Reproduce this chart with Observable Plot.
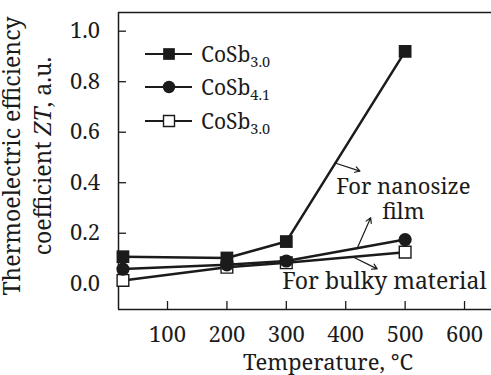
<!DOCTYPE html>
<html>
<head>
<meta charset="utf-8">
<script src="https://cdn.jsdelivr.net/npm/d3@7"></script>
<script src="https://cdn.jsdelivr.net/npm/@observablehq/plot@0.6"></script>
<style>
  html, body { margin: 0; padding: 0; background: #fff; overflow: hidden; }
</style>
</head>
<body>
<div id="chart"></div>
<script>
// Temperatures (°C) at which ZT was measured
const temps = [25, 200, 300, 500];
// ZT values for each sample
const ztFilm30 = [0.107, 0.102, 0.167, 0.92];   // CoSb3.0 nanosize film (filled squares)
const ztFilm41 = [0.058, 0.075, 0.09, 0.175];   // CoSb4.1 nanosize film (filled circles)
const ztBulk30 = [0.013, 0.065, 0.083, 0.125];  // CoSb3.0 bulk material (open squares)

const seriesBase = ["CoSb", "CoSb", "CoSb"];
const seriesSub = ["3.0", "4.1", "3.0"];

const xTicks = [100, 200, 300, 400, 500, 600];
const yTicks = [0, 0.2, 0.4, 0.6, 0.8, 1.0];
const xDomain = [17.5, 645.4];
const yDomain = [-0.102, 1.074];

// Annotation arrows (data units) and labels
const arrows = [
  {x1: 382, y1: 0.478, x2: 424, y2: 0.446},
  {x1: 419, y1: 0.139, x2: 442, y2: 0.261},
  {x1: 414, y1: 0.104, x2: 453, y2: 0.059}
];
const notesFilm = [
  {x: 497, y: 0.357, text: "For nanosize"},
  {x: 497, y: 0.258, text: "film"}
];
const notesBulk = [
  {x: 293, y: -0.019, text: "For bulky material"}
];

const rows = (ys) => temps.map((t, i) => ({t, zt: ys[i]}));
const film30 = rows(ztFilm30), film41 = rows(ztFilm41), bulk30 = rows(ztBulk30);

const ink = "#1b1b1b";
const face = '"Noto Serif", "DejaVu Serif", serif';
const plot = Plot.plot({
  width: 491,
  height: 375,
  marginLeft: 118,
  marginTop: 12,
  marginBottom: 66,
  marginRight: 0,
  style: {fontSize: "22px", color: ink, background: "#fff"},
  x: {domain: xDomain},
  y: {domain: yDomain},
  marks: [
    Plot.ruleX([xDomain[0]], {stroke: ink, strokeWidth: 1.5}),
    Plot.ruleY([yDomain[0], yDomain[1]], {stroke: ink, strokeWidth: 1.5}),
    Plot.axisX(xTicks, {tickSize: -8, tickPadding: 25, label: null, stroke: ink, strokeWidth: 1.3, fontSize: 22}),
    Plot.axisY(yTicks, {tickSize: -8, tickPadding: 26.5, tickFormat: d3.format(".1f"), label: null, stroke: ink, strokeWidth: 1.3, fontSize: 22}),
    Plot.line(bulk30, {x: "t", y: "zt", stroke: ink, strokeWidth: 2.5}),
    Plot.line(film41, {x: "t", y: "zt", stroke: ink, strokeWidth: 2.5}),
    Plot.line(film30, {x: "t", y: "zt", stroke: ink, strokeWidth: 2.5}),
    Plot.dot(bulk30, {x: "t", y: "zt", symbol: "square", r: 6.6, fill: "#fff", stroke: ink, strokeWidth: 1.4}),
    Plot.dot(film41, {x: "t", y: "zt", symbol: "circle", r: 6.6, fill: ink}),
    Plot.dot(film30, {x: "t", y: "zt", symbol: "square", r: 7.2, fill: ink}),
    Plot.arrow(arrows, {x1: "x1", y1: "y1", x2: "x2", y2: "y2", stroke: ink, strokeWidth: 1.2, headLength: 7}),
    Plot.text(notesFilm, {x: "x", y: "y", text: "text", textAnchor: "middle", lineAnchor: "bottom", fill: ink, fontSize: 22}),
    Plot.text(notesBulk, {x: "x", y: "y", text: "text", textAnchor: "start", lineAnchor: "bottom", fill: ink, fontSize: 23})
  ]
});

const svg = d3.select(plot);

// Two-line vertical axis title
const yTitle = svg.append("text")
  .attr("transform", "translate(20,156) rotate(-90)")
  .attr("text-anchor", "middle")
  .attr("fill", ink)
  .style("font-size", "23px");
yTitle.append("tspan").attr("x", 0).attr("dy", 0).text("Thermoelectric efficiency");
const l2 = yTitle.append("tspan").attr("x", 0).attr("dy", 31);
l2.append("tspan").text("coefficient ");
l2.append("tspan").style("font-style", "italic").text("ZT");
l2.append("tspan").text(", a.u.");

// X axis title
svg.append("text")
  .attr("x", 328).attr("y", 370)
  .attr("text-anchor", "middle")
  .attr("fill", ink)
  .style("font-size", "22px")
  .text("Temperature, °C");

// Legend
const legendY = [54, 87, 121];
const legendSymbols = [
  {type: d3.symbolSquare, r: 6.6, fill: ink, stroke: "none"},
  {type: d3.symbolCircle, r: 6.2, fill: ink, stroke: "none"},
  {type: d3.symbolSquare, r: 6.2, fill: "#fff", stroke: ink}
];
const legend = svg.append("g").attr("text-anchor", "start");
legendSymbols.forEach((s, i) => {
  const y = legendY[i];
  legend.append("line").attr("x1", 145).attr("x2", 192).attr("y1", y).attr("y2", y)
    .attr("stroke", ink).attr("stroke-width", 2.2);
  legend.append("path")
    .attr("transform", `translate(169,${y})`)
    .attr("d", d3.symbol(s.type, Math.PI * s.r * s.r)())
    .attr("fill", s.fill).attr("stroke", s.stroke).attr("stroke-width", 1.4);
  const t = legend.append("text").attr("x", 201).attr("y", y + 8)
    .attr("text-anchor", "start").attr("fill", ink).style("font-size", "21px");
  t.append("tspan").text(seriesBase[i]);
  t.append("tspan").attr("dy", 5).style("font-size", "14.5px").text(seriesSub[i]);
});

// Serif face on every label
svg.attr("font-family", face);
svg.selectAll("text").style("font-family", face);

document.getElementById("chart").append(plot);
</script>
</body>
</html>
